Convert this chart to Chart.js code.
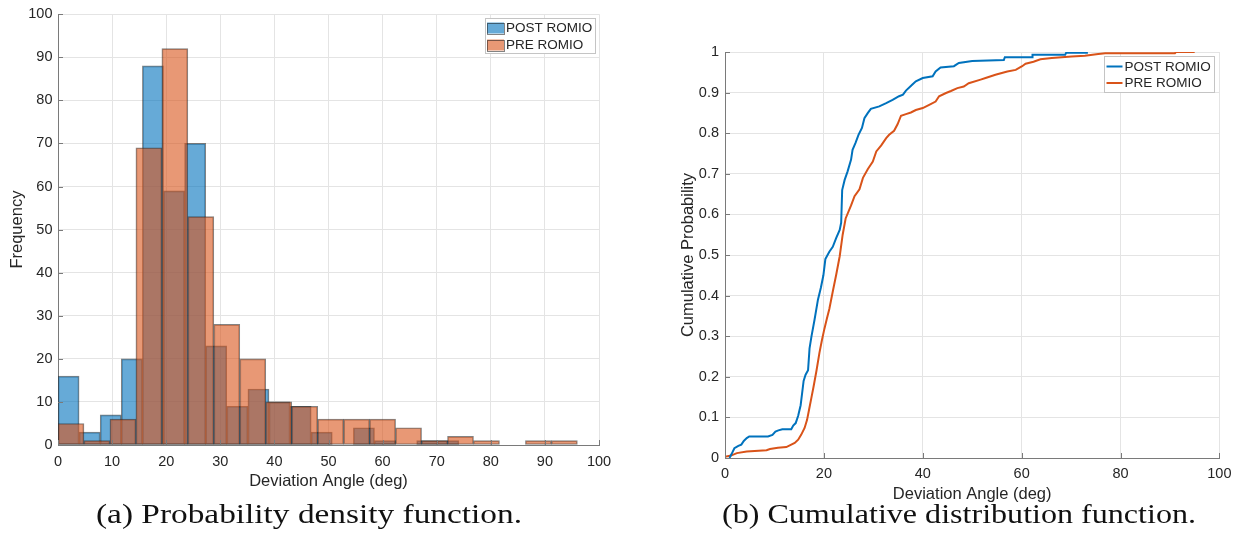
<!DOCTYPE html>
<html>
<head>
<meta charset="utf-8">
<script src="https://cdn.jsdelivr.net/npm/chart.js@4.4.1/dist/chart.umd.min.js"></script>
<style>
  html, body { margin: 0; padding: 0; background: #fff; width: 1239px; height: 550px; overflow: hidden; }
  #pdfCanvas { position: absolute; left: 0; top: 0; }
  #cdfCanvas { position: absolute; left: 620px; top: 0; }
  .caption { position: absolute; top: 500px; height: 34px; white-space: nowrap;
             font-family: "Liberation Serif", "DejaVu Serif", serif; font-size: 28px; line-height: 28px; color: #111; }
  .caption span { display: inline-block; transform-origin: 0 0; }
</style>
</head>
<body>
<canvas id="pdfCanvas" width="620" height="500"></canvas>
<canvas id="cdfCanvas" width="619" height="520"></canvas>
<div class="caption" id="capA" data-cx="309" data-w="426"><span>(a) Probability density function.</span></div>
<div class="caption" id="capB" data-cx="959" data-w="474"><span>(b) Cumulative distribution function.</span></div>

<script>
// ---- Histogram data: bin edges and counts ----
const postBinEdges = [0, 3.9, 7.8, 11.7, 15.6, 19.5, 23.4, 27.3, 31.2, 35.1, 39.0,
                      42.9, 46.8, 50.7, 54.6, 58.5, 62.4, 66.3, 70.2, 74.1];
const postCounts   = [16, 3, 7, 20, 88, 59, 70, 23, 9, 13, 10, 9, 3, 0, 4, 1, 0, 1, 1];

const preBinEdges  = [0, 4.8, 9.6, 14.4, 19.2, 24.0, 28.8, 33.6, 38.4, 43.2, 48.0,
                      52.8, 57.6, 62.4, 67.2, 72.0, 76.8, 81.6, 86.4, 91.2, 96.0];
const preCounts    = [5, 1, 6, 69, 92, 53, 28, 20, 10, 9, 6, 6, 6, 4, 1, 2, 1, 0, 1, 1];

// ---- Empirical CDF curves (corner points) ----
const postCdfX = [0.9, 1.3, 1.9, 2.7, 3.3, 3.8, 4.4, 4.9, 8.7, 9.6, 10.2, 10.8, 11.6, 13.4, 13.8, 14.3,
                  14.8, 15.3, 15.6, 15.9, 16.3, 16.8, 17.1, 17.5, 18.1, 18.8, 19.4, 19.9, 20.3, 21.1,
                  21.8, 22.5, 23.2, 23.5, 23.7, 24.2, 24.8, 25.5, 25.8, 26.4, 27.0, 27.7, 28.2, 28.9,
                  29.5, 31.2, 32.6, 33.9, 35.2, 36.0, 36.6, 37.9, 38.6, 40.0, 42.0, 42.6, 43.6, 46.3,
                  47.3, 50.0, 56.4, 56.6, 62.1, 62.2, 68.8, 69.0, 73.2, 73.2];
const postCdfY = [0, 0.009, 0.024, 0.030, 0.033, 0.042, 0.049, 0.053, 0.053, 0.057, 0.065, 0.068, 0.071, 0.071, 0.080, 0.086,
                  0.104, 0.130, 0.160, 0.190, 0.205, 0.216, 0.270, 0.300, 0.340, 0.390, 0.420, 0.450, 0.490, 0.508,
                  0.520, 0.542, 0.562, 0.580, 0.660, 0.685, 0.706, 0.735, 0.759, 0.776, 0.796, 0.813, 0.837, 0.850,
                  0.860, 0.866, 0.874, 0.882, 0.891, 0.895, 0.905, 0.920, 0.928, 0.936, 0.940, 0.952, 0.962, 0.965,
                  0.973, 0.978, 0.980, 0.987, 0.987, 0.993, 0.993, 0.998, 0.998, 1.0];

const preCdfX = [0, 1.2, 2.4, 4.4, 8.4, 9.1, 10.7, 12.4, 13.1, 14.1, 14.8, 15.4, 16.1, 16.6, 17.0, 17.5,
                 17.9, 18.5, 19.1, 19.6, 20.1, 20.6, 21.1, 21.8, 22.5, 23.2, 23.8, 24.4, 25.5, 26.2, 27.2,
                 27.9, 28.9, 29.9, 30.6, 31.6, 32.6, 33.2, 34.2, 34.9, 35.6, 36.6, 37.6, 38.6, 40.0, 41.3,
                 42.6, 43.3, 44.7, 45.7, 47.0, 48.3, 49.3, 51.7, 52.7, 54.7, 57.1, 58.8, 60.1, 60.8, 62.4,
                 63.8, 66.1, 70.1, 72.8, 75.5, 76.9, 91.0, 91.2, 95.0];
const preCdfY = [0.003, 0.006, 0.012, 0.016, 0.019, 0.022, 0.025, 0.027, 0.031, 0.037, 0.045, 0.057, 0.074, 0.094, 0.119, 0.150,
                 0.175, 0.215, 0.259, 0.290, 0.318, 0.343, 0.367, 0.410, 0.452, 0.497, 0.550, 0.590, 0.622, 0.645, 0.662,
                 0.690, 0.712, 0.730, 0.755, 0.770, 0.788, 0.796, 0.806, 0.822, 0.843, 0.847, 0.851, 0.857, 0.862, 0.870,
                 0.878, 0.891, 0.899, 0.904, 0.911, 0.915, 0.923, 0.932, 0.936, 0.944, 0.952, 0.956, 0.965, 0.971, 0.976,
                 0.982, 0.985, 0.989, 0.991, 0.995, 0.997, 0.997, 1.0, 1.0];

const seriesLabels = ['POST ROMIO', 'PRE ROMIO'];

// ---- Styling ----
const BLUE = 'rgb(0,114,189)';
const ORANGE = 'rgb(217,83,25)';
const BLUE_FILL = 'rgba(0,114,189,0.6)';
const ORANGE_FILL = 'rgba(217,83,25,0.6)';
const EDGE = 'rgba(30,30,30,0.55)';
const GRID = '#e4e4e4';
const AXIS = '#7a7a7a';
const TEXT = '#262626';
const SANS = '"Liberation Sans", Arial, sans-serif';

Chart.defaults.font.family = SANS;
Chart.defaults.color = TEXT;
Chart.defaults.animation = false;

function histPoints(edges, counts) {
  return counts.map((c, i) => ({ x: (edges[i] + edges[i + 1]) / 2, y: c }));
}
function cdfPoints(xs, ys) {
  return xs.map((x, i) => ({ x: x, y: ys[i] }));
}

// Short tick marks drawn inward from the left and bottom axes
const innerTicks = {
  id: 'innerTicks',
  afterDatasetsDraw(chart, args, opts) {
    const { ctx, chartArea: a } = chart;
    const xs = chart.scales.x, ys = chart.scales.y;
    ctx.save();
    ctx.strokeStyle = opts.color;
    ctx.lineWidth = 1;
    ctx.beginPath();
    xs.ticks.forEach(t => {
      const px = Math.round(xs.getPixelForValue(t.value)) + 0.5;
      ctx.moveTo(px, a.bottom); ctx.lineTo(px, a.bottom - opts.len);
    });
    ys.ticks.forEach(t => {
      const py = Math.round(ys.getPixelForValue(t.value)) + 0.5;
      ctx.moveTo(a.left, py); ctx.lineTo(a.left + opts.len, py);
    });
    ctx.stroke();
    ctx.restore();
  }
};

// Boxed legend inside the top-right corner of the plot area
const boxLegend = {
  id: 'boxLegend',
  afterDraw(chart, args, o) {
    const { ctx, chartArea: a } = chart;
    const items = chart.data.datasets;
    ctx.save();
    ctx.font = o.fontSize + 'px ' + SANS;
    const tw = Math.max(...items.map(d => ctx.measureText(d.label).width));
    const w = Math.round(o.textX + tw + o.padRight);
    const h = o.height;
    const x0 = Math.round(a.right - o.insetRight - w);
    const y0 = Math.round(a.top + o.insetTop);
    ctx.fillStyle = '#fff';
    ctx.fillRect(x0, y0, w, h);
    ctx.strokeStyle = o.borderColor;
    ctx.lineWidth = 1;
    ctx.strokeRect(x0 + 0.5, y0 + 0.5, w, h);
    items.forEach((d, i) => {
      const cy = y0 + o.rows[i];
      if (o.swatch === 'box') {
        ctx.fillStyle = d.backgroundColor;
        ctx.fillRect(x0 + o.swX, cy - o.swH / 2, o.swW, o.swH);
        ctx.strokeStyle = EDGE;
        ctx.strokeRect(x0 + o.swX + 0.5, Math.round(cy - o.swH / 2) + 0.5, o.swW, o.swH);
      } else {
        ctx.strokeStyle = d.borderColor;
        ctx.lineWidth = 2;
        ctx.beginPath();
        ctx.moveTo(x0 + o.swX, cy); ctx.lineTo(x0 + o.swX + o.swW, cy);
        ctx.stroke();
        ctx.lineWidth = 1;
      }
      ctx.fillStyle = TEXT;
      ctx.textBaseline = 'middle';
      ctx.textAlign = 'left';
      ctx.fillText(d.label, x0 + o.textX, cy + 0.5);
    });
    ctx.restore();
  }
};

const tickFont = { size: 14.5 };
const titleFont = { size: 16.5 };

// ---- (a) Histogram of deviation angles ----
// Each series sits on its own linear x scale so its bars take the full bin width.
new Chart(document.getElementById('pdfCanvas'), {
  type: 'bar',
  data: {
    datasets: [
      { label: seriesLabels[0], data: histPoints(postBinEdges, postCounts), xAxisID: 'x', yAxisID: 'y',
        backgroundColor: BLUE_FILL, borderColor: EDGE, borderWidth: 1, borderSkipped: false,
        barPercentage: 1, categoryPercentage: 1, grouped: false, order: 1 },
      { label: seriesLabels[1], data: histPoints(preBinEdges, preCounts), xAxisID: 'xPre', yAxisID: 'y',
        backgroundColor: ORANGE_FILL, borderColor: EDGE, borderWidth: 1, borderSkipped: false,
        barPercentage: 1, categoryPercentage: 1, grouped: false, order: 0 }
    ]
  },
  options: {
    responsive: false,
    animation: false,
    layout: { padding: { top: 14, right: 21, left: 0, bottom: 0 } },
    plugins: {
      legend: { display: false },
      tooltip: { enabled: false },
      innerTicks: { color: AXIS, len: 5 },
      boxLegend: { fontSize: 13.5, textX: 21, padRight: 3, height: 35, insetRight: 4, insetTop: 4,
                   rows: [10, 27], swatch: 'box', swX: 2, swW: 17, swH: 11, borderColor: '#c4c4c4' }
    },
    scales: {
      x: {
        type: 'linear', min: 0, max: 100, offset: false,
        ticks: { stepSize: 10, padding: 8, font: tickFont, color: TEXT, maxRotation: 0 },
        grid: { color: GRID, drawTicks: false, offset: false },
        border: { color: AXIS, width: 1 },
        title: { display: true, text: 'Deviation Angle (deg)', font: titleFont, color: TEXT, padding: { top: 0, bottom: 8.6 } },
        afterFit(s) { s.height = 55; }
      },
      xPre: { type: 'linear', min: 0, max: 100, offset: false, display: false, ticks: { stepSize: 10 } },
      y: {
        min: 0, max: 100,
        ticks: { stepSize: 10, padding: 5.5, font: tickFont, color: TEXT },
        grid: { color: GRID, drawTicks: false },
        border: { color: AXIS, width: 1 },
        title: { display: true, text: 'Frequency', font: titleFont, color: TEXT, padding: { top: 7.4, bottom: 0 } },
        afterFit(s) { s.width = 58; }
      }
    }
  },
  plugins: [innerTicks, boxLegend]
});

// ---- (b) Empirical cumulative distribution ----
new Chart(document.getElementById('cdfCanvas'), {
  type: 'line',
  data: {
    datasets: [
      { label: seriesLabels[0], data: cdfPoints(postCdfX, postCdfY), borderColor: BLUE, backgroundColor: BLUE,
        borderWidth: 2, pointRadius: 0, tension: 0, fill: false },
      { label: seriesLabels[1], data: cdfPoints(preCdfX, preCdfY), borderColor: ORANGE, backgroundColor: ORANGE,
        borderWidth: 2, pointRadius: 0, tension: 0, fill: false }
    ]
  },
  options: {
    responsive: false,
    animation: false,
    layout: { padding: { top: 52, right: 18, left: 0, bottom: 0 } },
    plugins: {
      legend: { display: false },
      tooltip: { enabled: false },
      innerTicks: { color: AXIS, len: 5 },
      boxLegend: { fontSize: 13.5, textX: 20.5, padRight: 3, height: 36, insetRight: 5, insetTop: 4,
                   rows: [10.5, 27], swatch: 'line', swX: 2.5, swW: 16, borderColor: '#c4c4c4' }
    },
    scales: {
      x: {
        type: 'linear', min: 0, max: 100,
        ticks: { stepSize: 20, padding: 7.5, font: tickFont, color: TEXT, maxRotation: 0 },
        grid: { color: GRID, drawTicks: false },
        border: { color: AXIS, width: 1 },
        title: { display: true, text: 'Deviation Angle (deg)', font: titleFont, color: TEXT, padding: { top: 0, bottom: 16.1 } },
        afterFit(s) { s.height = 62; }
      },
      y: {
        min: 0, max: 1,
        ticks: { stepSize: 0.1, padding: 6, font: tickFont, color: TEXT,
                 callback: v => String(Number(v.toFixed(1))) },
        grid: { color: GRID, drawTicks: false },
        border: { color: AXIS, width: 1 },
        title: { display: true, text: 'Cumulative Probability', font: titleFont, color: TEXT, padding: { top: 58.4, bottom: 0 } },
        afterFit(s) { s.width = 105; }
      }
    }
  },
  plugins: [innerTicks, boxLegend]
});

// ---- Sub-figure captions: centred and stretched to their set widths ----
document.querySelectorAll('.caption').forEach(el => {
  const span = el.querySelector('span');
  const cx = parseFloat(el.dataset.cx), w = parseFloat(el.dataset.w);
  const natural = span.getBoundingClientRect().width;
  el.style.left = (cx - w / 2) + 'px';
  span.style.transform = 'scaleX(' + (w / natural) + ')';
});
</script>
</body>
</html>
